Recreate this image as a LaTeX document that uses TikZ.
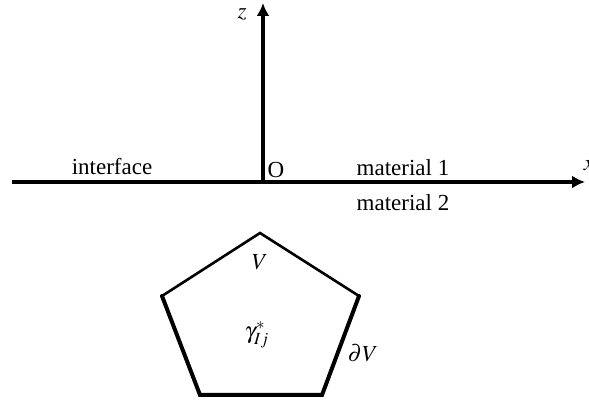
\documentclass[tikz,border=0pt]{standalone}
\usepackage{mathptmx}
\usepackage{fontspec}
\setmainfont{Liberation Serif}
\usetikzlibrary{arrows.meta}

\begin{document}
\begin{tikzpicture}[x=0.5pt,y=-0.5pt]
  \tikzset{every node/.style={inner sep=0.5pt},font=\fontsize{11.5}{13}\selectfont}
  \tikzstyle{axis}=[line width=1.7pt,->,>={Latex[length=6.5pt,width=6.5pt]}]
  \tikzstyle{thinedge}=[line width=1.3pt,line cap=round,line join=miter]
  \tikzstyle{thickedge}=[line width=2pt,line cap=round,line join=miter]

  \useasboundingbox (0,0) rectangle (589,400);

  \coordinate (O) at (263,182);
  \coordinate (Xstart) at (12,182);
  \coordinate (Xend) at (585,182);
  \coordinate (Zend) at (263,3);

  % axes
  \draw[axis] (Xstart) -- (Xend);
  \draw[axis] (O) -- (Zend);

  % axis labels
  \node (zlab) at (242,14) {$z$};
  \node (xlab) at (589,166) {$x$};
  \node (Olab) at (276,170) {O};
  \node (iface) at (112,167) {interface};
  \node (mat1) at (403,168) {material 1};
  \node (mat2) at (403,203) {material 2};

  % pentagon volume
  \coordinate (P1) at (260,233);
  \coordinate (P2) at (359,296);
  \coordinate (P3) at (322,395);
  \coordinate (P4) at (200,395);
  \coordinate (P5) at (162,296);
  \draw[thinedge] (P5) -- (P1) -- (P2);
  \draw[thickedge] (P2) -- (P3) -- (P4) -- (P5);

  % labels
  \node (Vlab) at (260,262) {$V$};
  \node (gam) at (257,335) {$\gamma_{Ij}^{*}$};
  \node (dV) at (363,353) {$\partial V$};

\end{tikzpicture}
\end{document}
